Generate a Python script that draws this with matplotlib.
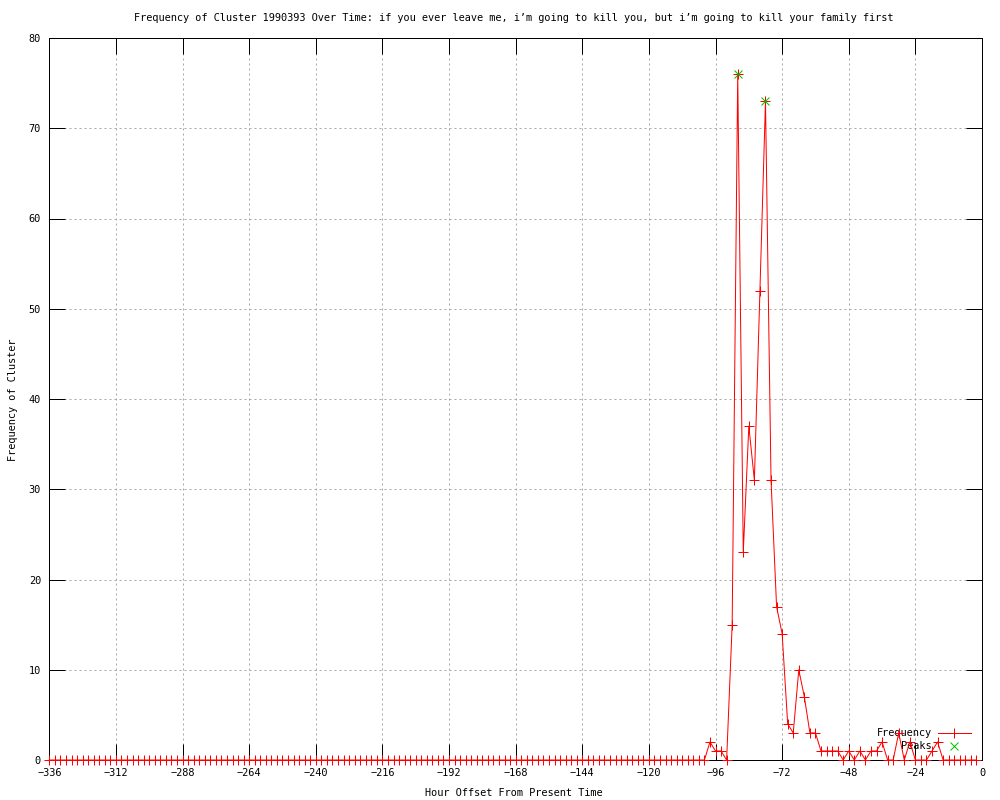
#Description
"""
Frequency of one cluster over the last two weeks, drawn in the style of an old gnuplot png.
Run with: python3 plot.py  (writes out.png)
"""

#Libraries
import matplotlib
matplotlib.use('Agg')
import matplotlib.pyplot as plt

#Constants
TITLE = ('Frequency of Cluster 1990393 Over Time: if you ever leave me, '
         'i\u2019m going to kill you, but i\u2019m going to kill your family first')
X_LABEL = 'Hour Offset From Present Time'
Y_LABEL = 'Frequency of Cluster'
FONT_SIZE = 7.4
GRID_COLOR = '#a8a8a8'
PEAK_COLOR = '#00c000'

#Data
##Hour offsets, one sample every two hours
hours = list(range(-336, 0, 2))

##Counts from -336 to -100 (nothing happened)
quiet_counts = [
    0, 0, 0, 0, 0, 0, 0, 0, 0, 0, 0, 0, 0, 0, 0, 0, 0, 0, 0, 0,
    0, 0, 0, 0, 0, 0, 0, 0, 0, 0, 0, 0, 0, 0, 0, 0, 0, 0, 0, 0,
    0, 0, 0, 0, 0, 0, 0, 0, 0, 0, 0, 0, 0, 0, 0, 0, 0, 0, 0, 0,
    0, 0, 0, 0, 0, 0, 0, 0, 0, 0, 0, 0, 0, 0, 0, 0, 0, 0, 0, 0,
    0, 0, 0, 0, 0, 0, 0, 0, 0, 0, 0, 0, 0, 0, 0, 0, 0, 0, 0, 0,
    0, 0, 0, 0, 0, 0, 0, 0, 0, 0, 0, 0, 0, 0, 0, 0, 0, 0, 0,
]

##Counts from -98 to -2
active_counts = [
    2, 1, 1, 0, 15, 76, 23, 37, 31, 52, 73, 31, 17, 14, 4, 3, 10, 7, 3, 3,
    1, 1, 1, 1, 0, 1, 0, 1, 0, 1, 1, 2, 0, 0, 3, 0, 2, 0, 0, 0,
    1, 2, 0, 0, 0, 0, 0, 0, 0,
]

counts = quiet_counts + active_counts

##Detected peaks
peak_hours = [-88, -78]
peak_counts = [76, 73]

##Axis ticks
x_ticks = list(range(-336, 1, 24))
y_ticks = list(range(0, 81, 10))


#Main
def main():
    ##Figure setup
    plt.rcParams['font.family'] = ['DejaVu Sans Mono']
    fig = plt.figure(figsize=(10, 8), dpi=100)
    ax = fig.add_axes([0.0493, 0.05, 0.9327, 0.9025])

    ##Series
    ax.plot(hours, counts, color='red', lw=0.72, marker='+', ms=6.5, mew=0.72,
            label='Frequency', clip_on=False, zorder=3)
    ax.plot(peak_hours, peak_counts, ls='none', marker='x', ms=5.5, mew=0.72,
            color=PEAK_COLOR, label='Peaks', zorder=4)

    ##Axes
    ax.set_xlim(-336, 0)
    ax.set_ylim(0, 80)
    ax.set_xticks(x_ticks)
    ax.set_yticks(y_ticks)
    ax.tick_params(direction='in', length=11.5, width=0.72, top=True, right=True,
                   labelsize=FONT_SIZE, pad=6, colors='black')
    for spine in ax.spines.values():
        spine.set_linewidth(0.72)
    ax.grid(True, color=GRID_COLOR, lw=0.72, linestyle=(0, (2, 3)))
    ax.set_axisbelow(True)

    ##Texts
    fig.text(0.514, 1 - 18 / 800, TITLE, ha='center', va='center', fontsize=FONT_SIZE)
    fig.text(0.514, 1 - 793 / 800, X_LABEL, ha='center', va='center', fontsize=FONT_SIZE)
    fig.text(0.013, 1 - 400 / 800, Y_LABEL, ha='center', va='center',
             rotation=90, fontsize=FONT_SIZE)

    ##Legend
    leg = ax.legend(loc='lower right', bbox_to_anchor=(0.988, 0.012), frameon=False,
                    markerfirst=False, fontsize=FONT_SIZE, handlelength=3.2,
                    handletextpad=0.6, labelspacing=0.3, borderpad=0,
                    borderaxespad=0)
    leg.set_zorder(2)

    fig.savefig('out.png', dpi=100)
    plt.close(fig)


#Execution
if __name__ == '__main__':
    main()
